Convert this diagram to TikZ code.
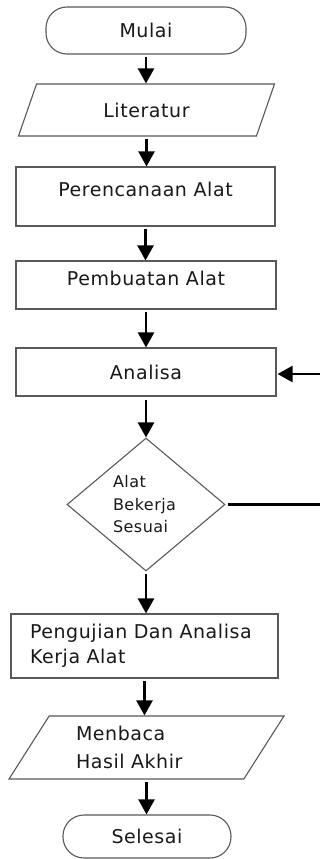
\documentclass[tikz,border=0pt]{standalone}
\usepackage{fontspec}
\newfontfamily\lblfont{DejaVu Sans}[LetterSpace=3]
\usetikzlibrary{shapes.geometric, arrows.meta}
\definecolor{bordercol}{gray}{0.35}
\definecolor{textcol}{gray}{0.1}
\tikzset{
  base/.style={draw=bordercol, line width=1.1pt, text=textcol, inner sep=2pt,
    font=\lblfont\fontsize{19}{25}\selectfont},
  term/.style={base, rectangle, rounded corners=21pt},
  procbox/.style={base, rectangle},
  raised/.style={text height=13pt, text depth=13pt},
  iobox/.style={base, trapezium, trapezium stretches body},
  decbox/.style={base, diamond, inner sep=0pt, font=\lblfont\fontsize{16}{22.5}\selectfont},
  arr/.style={line width=2.3pt, -{Triangle[width=16pt,length=15pt]}},
  plainline/.style={line width=2.3pt}
}
\begin{document}
\begin{tikzpicture}[x=1pt,y=-1pt]
\useasboundingbox[fill=white] (0,0) rectangle (320,859);

\node[term, minimum width=200pt, minimum height=47pt] (start) at (146,30.5) {Mulai};
\node[iobox, trapezium left angle=46, trapezium right angle=134,
      minimum width=256pt, minimum height=52pt] (lit) at (146.5,110) {Literatur};
\node[procbox, raised, minimum width=259pt, minimum height=59pt] (plan) at (145.5,196.5) {Perencanaan Alat};
\node[procbox, raised, minimum width=260pt, minimum height=48pt] (make) at (146,285) {Pembuatan Alat};
\node[procbox, minimum width=260pt, minimum height=48pt] (ana) at (146,372) {Analisa};
\node[decbox, minimum width=158pt, minimum height=133pt, text width=66pt, align=left] (dec) at (146,504.5)
  {Alat\\Bekerja\\Sesuai};
\node[procbox, minimum width=267pt, minimum height=64pt, text width=229pt, align=left] (test) at (144.5,646)
  {Pengujian Dan Analisa\\Kerja Alat};
\node[iobox, trapezium left angle=49, trapezium right angle=131,
      minimum width=275pt, minimum height=63pt, text width=141pt, align=left,
      font=\lblfont\fontsize{19}{27.5}\selectfont] (read) at (146.5,747.5)
  {Menbaca\\Hasil Akhir};
\node[term, minimum width=168pt, minimum height=43pt] (stop) at (147,836.5) {Selesai};

\coordinate (r1) at (320,504.5);
\coordinate (r2) at (320,374);

\draw[arr, shorten <=2pt] (start.south) -- (start.south |- lit.north);
\draw[arr, shorten <=2pt] (lit.south) -- (lit.south |- plan.north);
\draw[arr, shorten <=2pt] (plan.south) -- (plan.south |- make.north);
\draw[arr, shorten <=2pt] (make.south) -- (make.south |- ana.north);
\draw[arr, shorten <=3pt] (ana.south) -- (ana.south |- dec.north);
\draw[arr, shorten <=2pt] (dec.south) -- (dec.south |- test.north);
\draw[arr, shorten <=2pt] (test.south) -- (test.south |- read.north);
\draw[arr, shorten <=2pt] (read.south) -- (read.south |- stop.north);
\draw[plainline, shorten <=2pt] (dec.east) -- (r1);
\draw[arr, shorten >=1pt] (r2) -- (r2 -| ana.east);
\end{tikzpicture}
\end{document}
